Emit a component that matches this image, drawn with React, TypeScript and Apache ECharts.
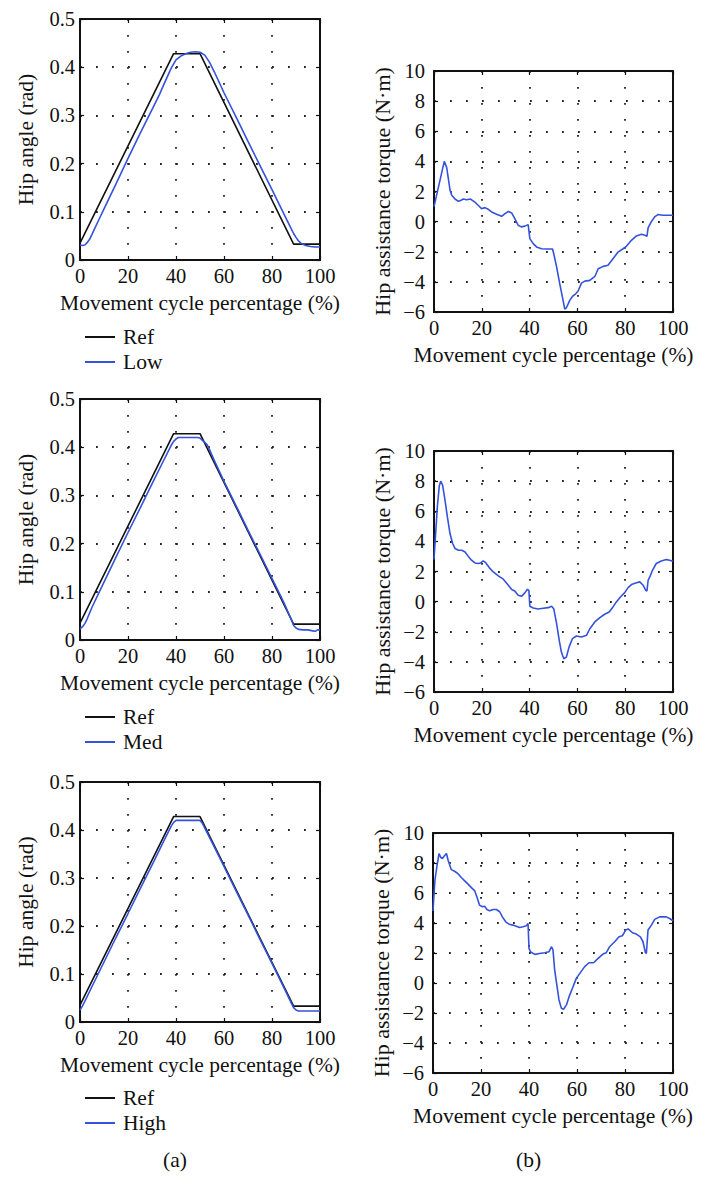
import React, { useEffect, useRef } from "react";
import * as echarts from "echarts";

// ---------- data ----------
const xTicks = [0, 20, 40, 60, 80, 100];

const refX = [0, 39, 50, 89, 100];
const refY = [0.035, 0.428, 0.428, 0.033, 0.033];

const lowAngleX = [0, 1, 2, 3, 4, 5, 6, 8, 10, 15, 20, 25, 30, 33, 35, 38, 40, 42, 44, 46, 48, 50, 52, 54, 56, 60, 65, 70, 75, 80, 85, 87, 89, 90, 91, 92, 94, 96, 98, 100];
const lowAngleY = [0.031, 0.030, 0.031, 0.036, 0.043, 0.053, 0.064, 0.085, 0.106, 0.158, 0.211, 0.262, 0.312, 0.342, 0.365, 0.398, 0.415, 0.423, 0.428, 0.431, 0.432, 0.431, 0.425, 0.410, 0.390, 0.347, 0.297, 0.246, 0.196, 0.146, 0.095, 0.075, 0.055, 0.047, 0.040, 0.035, 0.030, 0.028, 0.027, 0.027];

const medAngleX = [0, 1, 2, 3, 4, 5, 10, 15, 20, 25, 30, 35, 38, 39, 40, 41, 49, 50, 51, 52, 53, 54, 56, 60, 65, 70, 75, 80, 85, 88, 89, 90, 91, 93, 95, 97, 98, 99, 100];
const medAngleY = [0.023, 0.027, 0.034, 0.044, 0.056, 0.068, 0.12, 0.172, 0.223, 0.273, 0.324, 0.374, 0.404, 0.412, 0.417, 0.42, 0.42, 0.419, 0.414, 0.41, 0.405, 0.395, 0.372, 0.329, 0.279, 0.228, 0.178, 0.128, 0.077, 0.043, 0.030, 0.025, 0.022, 0.021, 0.021, 0.019, 0.018, 0.021, 0.021];

const highAngleX = [0, 1, 2, 5, 10, 15, 20, 25, 30, 35, 38, 39, 40, 50, 51, 55, 60, 65, 70, 75, 80, 85, 88, 89, 90, 91, 100];
const highAngleY = [0.025, 0.033, 0.043, 0.074, 0.125, 0.176, 0.226, 0.277, 0.327, 0.378, 0.408, 0.416, 0.42, 0.42, 0.414, 0.374, 0.324, 0.273, 0.223, 0.172, 0.122, 0.071, 0.04, 0.03, 0.025, 0.023, 0.023];

const lowTorqueX = [0, 4.3, 5.3, 6.7, 7.4, 8.8, 10.2, 11.1, 12.3, 13.6, 15.3, 17.1, 19.2, 19.9, 21.3, 22.7, 24.1, 26.2, 28.3, 29.7, 31.1, 32.5, 33.8, 35.2, 36.6, 38, 39.4, 40.1, 41.5, 42.9, 45, 47.1, 49.6, 50.1, 51.3, 52.6, 54, 54.7, 55.4, 56.8, 57.9, 59.3, 60.3, 61.7, 63.1, 65.2, 67.3, 68.7, 70.8, 72.8, 74.9, 77, 79.1, 80.5, 82.6, 84.7, 86.8, 88.2, 89.1, 89.6, 90.9, 92.3, 93.7, 95.8, 100];
const lowTorqueY = [1.0, 4.0, 3.6, 2.1, 1.75, 1.5, 1.35, 1.4, 1.5, 1.45, 1.5, 1.3, 0.97, 0.86, 0.93, 0.82, 0.64, 0.49, 0.35, 0.53, 0.67, 0.58, 0.2, -0.24, -0.35, -0.3, -0.2, -1.13, -1.46, -1.68, -1.8, -1.82, -1.82, -2.13, -3.0, -4.12, -5.23, -5.8, -5.72, -5.23, -4.97, -4.79, -4.61, -4.08, -3.95, -3.9, -3.64, -3.13, -2.97, -2.9, -2.46, -2.02, -1.8, -1.64, -1.24, -0.95, -0.84, -0.91, -0.98, -0.4, -0.02, 0.31, 0.47, 0.42, 0.42];

const medTorqueX = [0, 0.6, 1.4, 2.2, 2.8, 3.6, 4.6, 5.6, 6.7, 7.8, 8.8, 10.2, 11.6, 13, 14.3, 15.7, 17.1, 18.5, 19.5, 20.6, 21.7, 23.1, 24.8, 26.9, 29, 31.1, 32.5, 33.8, 35.2, 36.6, 38, 39.1, 39.7, 40.1, 41.5, 43.6, 45.7, 47.8, 49.2, 50.1, 51.3, 52.4, 53.3, 54.3, 55.4, 56.5, 57.9, 59.6, 61.7, 63.8, 65.2, 67.3, 69.4, 71.4, 73.3, 74.9, 76.3, 78, 79.8, 81.2, 82.6, 84.4, 86.1, 87.5, 88.6, 89.1, 89.6, 90.3, 91.4, 93, 95.1, 97.2, 98.6, 100];
const medTorqueY = [2.8, 4.3, 6.3, 7.67, 8.0, 7.74, 6.74, 5.63, 4.52, 3.86, 3.53, 3.41, 3.41, 3.3, 3.02, 2.75, 2.57, 2.53, 2.57, 2.7, 2.57, 2.26, 1.97, 1.71, 1.49, 1.09, 0.8, 0.71, 0.42, 0.35, 0.58, 0.82, 0.75, -0.31, -0.42, -0.49, -0.44, -0.4, -0.31, -0.47, -1.46, -2.57, -3.35, -3.79, -3.68, -3.02, -2.46, -2.28, -2.35, -2.24, -1.8, -1.35, -1.06, -0.84, -0.69, -0.35, -0.02, 0.31, 0.6, 0.93, 1.13, 1.24, 1.31, 1.09, 0.75, 0.71, 1.42, 1.64, 2.08, 2.53, 2.7, 2.79, 2.75, 2.68];

const highTorqueX = [0, 0.3, 0.8, 1.7, 2.5, 3.3, 3.9, 4.6, 5.6, 6.3, 7.6, 9, 10.4, 11.8, 13.2, 14.6, 16, 17.4, 18.3, 19.4, 20.6, 21.5, 22.5, 23.6, 25, 26.4, 27.8, 28.9, 30.3, 31.7, 33.3, 34.7, 36.1, 37.5, 38.9, 39.6, 40, 40.6, 42.4, 44.4, 46.5, 48.3, 49.4, 50, 50.7, 51.7, 52.5, 53.5, 54.4, 55.6, 56.7, 58.1, 59.7, 61.4, 63.2, 65, 66.9, 68.8, 70.8, 72.2, 73.6, 75.7, 77.5, 78.9, 80.3, 81.3, 83.1, 84.7, 86.4, 87.5, 88.5, 88.9, 89.6, 91, 92.4, 94.4, 97.2, 98.6, 100];
const highTorqueY = [4.8, 5.6, 6.85, 7.85, 8.63, 8.36, 8.29, 8.45, 8.63, 8.18, 7.56, 7.45, 7.29, 7.03, 6.81, 6.59, 6.36, 6.14, 5.74, 5.19, 5.08, 5.12, 4.9, 4.81, 4.9, 4.9, 4.75, 4.41, 4.08, 3.92, 3.86, 3.79, 3.7, 3.75, 3.81, 3.97, 2.31, 2.08, 1.91, 1.97, 2.02, 2.08, 2.42, 2.2, 0.86, -0.24, -1.13, -1.69, -1.75, -1.46, -0.91, -0.35, 0.31, 0.69, 1.09, 1.35, 1.35, 1.64, 1.93, 2.02, 2.42, 2.75, 3.08, 3.15, 3.53, 3.61, 3.35, 3.26, 3.08, 2.75, 2.02, 1.97, 3.53, 3.86, 4.24, 4.41, 4.41, 4.3, 4.15];

const angleTicks = [0, 0.1, 0.2, 0.3, 0.4, 0.5];
const torqueTicks = [-6, -4, -2, 0, 2, 4, 6, 8, 10];

const legendNames = ["Low", "Med", "High"];
const xName = "Movement cycle percentage (%)";
const angleName = "Hip angle (rad)";
const torqueName = "Hip assistance torque (N·m)";

// ---------- styling ----------
const FONT = "'Liberation Serif', 'Times New Roman', serif";
const BLUE = "#3552dc";
const BLACK = "#111111";

const grids = [
  { left: 80, top: 19, width: 240, height: 241 },
  { left: 434, top: 71, width: 239, height: 241 },
  { left: 80, top: 399, width: 240, height: 241 },
  { left: 434, top: 451, width: 239, height: 241 },
  { left: 80, top: 782, width: 240, height: 240 },
  { left: 433, top: 833, width: 240, height: 240 },
];

const pairs = (xs: number[], ys: number[]) => xs.map((x, i) => [x, ys[i]]);
const minus = (v: number) => String(v).replace("-", "\u2212");

export default function App() {
  const ref = useRef<HTMLDivElement>(null);
  useEffect(() => {
    if (!ref.current) return;
    const chart = echarts.init(ref.current, null, { renderer: "svg" });

    const xAxes: any[] = [];
    const yAxes: any[] = [];
    const dotted = () => ({ show: true, lineStyle: { color: "#222", width: 1.8, type: [1.8, 14.2] } });
    const tick = () => ({ show: true, inside: true, length: 4, lineStyle: { color: BLACK, width: 1.2 } });
    const mkLine = () => ({ show: true, onZero: false, lineStyle: { color: BLACK, width: 2 } });
    grids.forEach((_, i) => {
      const isAngle = i % 2 === 0;
      const ticks = isAngle ? angleTicks : torqueTicks;
      xAxes.push({
        type: "value", gridIndex: i, position: "bottom", min: xTicks[0], max: xTicks[xTicks.length - 1], interval: 20,
        axisLine: mkLine(), axisTick: tick(),
        axisLabel: { color: BLACK, fontFamily: FONT, fontSize: 20.5, margin: 5 },
        splitLine: dotted(),
        name: xName, nameLocation: "middle", nameGap: 32,
        nameTextStyle: { color: BLACK, fontFamily: FONT, fontSize: 21.5 },
      });
      xAxes.push({
        type: "value", gridIndex: i, position: "top", min: xTicks[0], max: xTicks[xTicks.length - 1], interval: 20,
        axisLine: mkLine(), axisTick: tick(), axisLabel: { show: false }, splitLine: { show: false },
      });
      yAxes.push({
        type: "value", gridIndex: i, position: "left", min: ticks[0], max: ticks[ticks.length - 1],
        interval: isAngle ? 0.1 : 2,
        axisLine: mkLine(), axisTick: tick(),
        axisLabel: { color: BLACK, fontFamily: FONT, fontSize: 20.5, margin: isAngle ? 5 : 9, formatter: (v: number) => minus(v) },
        splitLine: dotted(),
        name: isAngle ? angleName : torqueName, nameLocation: "middle", nameGap: isAngle ? 43 : 41,
        nameTextStyle: { color: BLACK, fontFamily: FONT, fontSize: isAngle ? 21.5 : 22 },
      });
      yAxes.push({
        type: "value", gridIndex: i, position: "right", min: ticks[0], max: ticks[ticks.length - 1],
        interval: isAngle ? 0.1 : 2,
        axisLine: mkLine(), axisTick: tick(), axisLabel: { show: false }, splitLine: { show: false },
      });
    });

    const angleSeries = [
      [lowAngleX, lowAngleY],
      [medAngleX, medAngleY],
      [highAngleX, highAngleY],
    ];
    const torqueSeries = [
      [lowTorqueX, lowTorqueY],
      [medTorqueX, medTorqueY],
      [highTorqueX, highTorqueY],
    ];

    const series: any[] = [];
    for (let r = 0; r < 3; r++) {
      const gi = r * 2;
      series.push({
        type: "line", name: "Ref", xAxisIndex: gi * 2, yAxisIndex: gi * 2,
        data: pairs(refX, refY), showSymbol: false, symbol: "none",
        lineStyle: { color: BLACK, width: 1.6 }, itemStyle: { color: BLACK },
      });
      series.push({
        type: "line", name: legendNames[r], xAxisIndex: gi * 2, yAxisIndex: gi * 2,
        data: pairs(angleSeries[r][0], angleSeries[r][1]), showSymbol: false, symbol: "none",
        lineStyle: { color: BLUE, width: 1.6 }, itemStyle: { color: BLUE },
      });
      const gj = r * 2 + 1;
      series.push({
        type: "line", name: "torque-" + legendNames[r], xAxisIndex: gj * 2, yAxisIndex: gj * 2,
        data: pairs(torqueSeries[r][0], torqueSeries[r][1]), showSymbol: false, symbol: "none",
        lineStyle: { color: BLUE, width: 1.6 }, itemStyle: { color: BLUE },
      });
    }

    const legendTops = [321, 701, 1082];
    const legend = legendTops.map((top, r) => ({
      data: ["Ref", legendNames[r]],
      left: 80, top, orient: "vertical", icon: "rect", itemWidth: 30, itemHeight: 2, itemGap: 3,
      selectedMode: false,
      textStyle: { color: BLACK, fontFamily: FONT, fontSize: 21.5, lineHeight: 21, padding: [0, 0, 0, 3] },
    }));

    chart.setOption({
      animation: false,
      grid: grids.map((g) => ({ ...g, containLabel: false })),
      xAxis: xAxes,
      yAxis: yAxes,
      legend,
      series,
      graphic: [
        { type: "text", left: 163, top: 1149, style: { text: "(a)", fontFamily: FONT, fontSize: 21.5, fill: BLACK } },
        { type: "text", left: 516, top: 1149, style: { text: "(b)", fontFamily: FONT, fontSize: 21.5, fill: BLACK } },
      ],
    });
    return () => chart.dispose();
  }, []);

  return <div ref={ref} style={{ position: "fixed", left: 0, top: 0, width: 707, height: 1204, background: "#fff" }} />;
}
